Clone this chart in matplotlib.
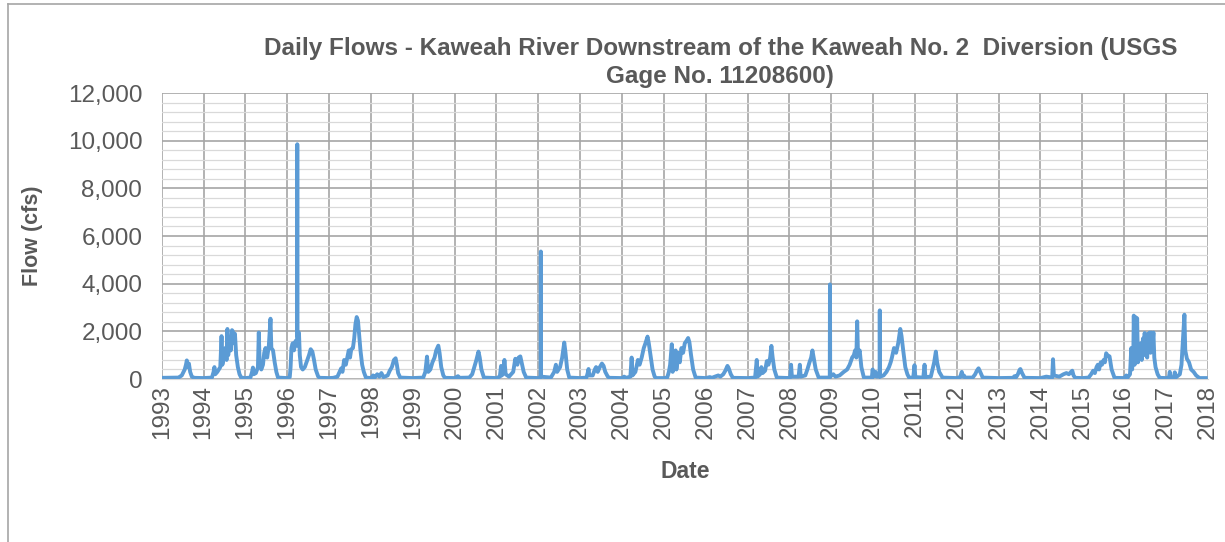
import matplotlib.pyplot as plt
from matplotlib.lines import Line2D
from matplotlib.ticker import FuncFormatter, MultipleLocator

plt.rcParams["font.family"] = ["Liberation Sans", "DejaVu Sans"]

# Data: date as decimal year, daily flow in cfs
flow_date = [
    1993.00, 1993.40, 1993.48, 1993.55, 1993.58, 1993.60, 1993.62, 1993.65, 1993.68, 1993.72, 1993.78,
    1994.00, 1994.20, 1994.24, 1994.26, 1994.28, 1994.33, 1994.40, 1994.43, 1994.45, 1994.48, 1994.52,
    1994.55, 1994.57, 1994.59, 1994.62, 1994.65, 1994.68, 1994.70, 1994.72, 1994.75, 1994.78, 1994.82,
    1994.86, 1994.90,
    1995.00, 1995.12, 1995.16, 1995.18, 1995.20, 1995.25, 1995.30, 1995.32, 1995.34, 1995.38, 1995.42,
    1995.45, 1995.48, 1995.52, 1995.56, 1995.60, 1995.62, 1995.66, 1995.70, 1995.74, 1995.78,
    1996.00, 1996.06, 1996.08, 1996.10, 1996.13, 1996.16, 1996.20, 1996.235, 1996.24, 1996.245, 1996.28,
    1996.30, 1996.33, 1996.37, 1996.42, 1996.48, 1996.52, 1996.56, 1996.60, 1996.64, 1996.68, 1996.74,
    1996.78,
    1997.00, 1997.10, 1997.20, 1997.25, 1997.29, 1997.32, 1997.36, 1997.40, 1997.43, 1997.47, 1997.50,
    1997.53, 1997.57, 1997.60, 1997.63, 1997.66, 1997.69, 1997.72, 1997.75, 1997.79, 1997.83, 1997.88,
    1998.00, 1998.05, 1998.09, 1998.15, 1998.20, 1998.25, 1998.30, 1998.40, 1998.45, 1998.50, 1998.55,
    1998.59, 1998.62, 1998.65, 1998.70,
    1999.00, 1999.25, 1999.30, 1999.34, 1999.37, 1999.42, 1999.47, 1999.52, 1999.56, 1999.61, 1999.64,
    1999.68, 1999.73, 1999.77,
    2000.00, 2000.08, 2000.12, 2000.35, 2000.42, 2000.47, 2000.52, 2000.57, 2000.60, 2000.64, 2000.70,
    2001.00, 2001.08, 2001.11, 2001.13, 2001.17, 2001.19, 2001.22, 2001.30, 2001.40, 2001.45, 2001.50,
    2001.53, 2001.57, 2001.60, 2001.65, 2001.71,
    2002.00, 2002.055, 2002.06, 2002.065, 2002.30, 2002.38, 2002.42, 2002.45, 2002.52, 2002.57, 2002.62,
    2002.65, 2002.69, 2002.74,
    2003.00, 2003.15, 2003.18, 2003.20, 2003.22, 2003.30, 2003.35, 2003.38, 2003.42, 2003.47, 2003.52,
    2003.56, 2003.60, 2003.66, 2003.70,
    2004.00, 2004.05, 2004.10, 2004.20, 2004.23, 2004.25, 2004.32, 2004.38, 2004.42, 2004.47, 2004.52,
    2004.56, 2004.61, 2004.64, 2004.68, 2004.73, 2004.78, 2004.82,
    2005.00, 2005.08, 2005.12, 2005.15, 2005.19, 2005.21, 2005.25, 2005.28, 2005.30, 2005.35, 2005.38,
    2005.42, 2005.46, 2005.50, 2005.54, 2005.58, 2005.61, 2005.65, 2005.70, 2005.76,
    2006.00, 2006.10, 2006.15, 2006.22, 2006.30, 2006.35, 2006.42, 2006.47, 2006.52, 2006.55, 2006.60,
    2006.65,
    2007.00, 2007.18, 2007.22, 2007.24, 2007.30, 2007.33, 2007.36, 2007.42, 2007.46, 2007.50, 2007.54,
    2007.57, 2007.60, 2007.64, 2007.70,
    2008.00, 2008.02, 2008.04, 2008.06, 2008.22, 2008.25, 2008.27, 2008.38, 2008.43, 2008.48, 2008.52,
    2008.55, 2008.58, 2008.63, 2008.70, 2008.965, 2008.97, 2008.975,
    2009.05, 2009.10, 2009.20, 2009.30, 2009.38, 2009.44, 2009.50, 2009.54, 2009.57, 2009.60, 2009.62,
    2009.64, 2009.68, 2009.72, 2009.78, 2009.97, 2009.99,
    2010.01, 2010.06, 2010.08, 2010.155, 2010.16, 2010.165, 2010.25, 2010.32, 2010.38, 2010.42, 2010.45,
    2010.50, 2010.55, 2010.60, 2010.65, 2010.68, 2010.72, 2010.77, 2010.82, 2010.86, 2010.96, 2010.99,
    2011.01, 2011.20, 2011.23, 2011.25, 2011.38, 2011.42, 2011.46, 2011.50, 2011.53, 2011.58, 2011.66,
    2012.00, 2012.08, 2012.12, 2012.14, 2012.17, 2012.20, 2012.38, 2012.44, 2012.48, 2012.52, 2012.56,
    2012.62,
    2013.00, 2013.35, 2013.38, 2013.42, 2013.46, 2013.50, 2013.52, 2013.56, 2013.62,
    2014.00, 2014.14, 2014.28, 2014.30, 2014.32, 2014.45, 2014.55, 2014.62, 2014.68, 2014.73, 2014.76,
    2014.79, 2014.83,
    2015.00, 2015.15, 2015.21, 2015.26, 2015.30, 2015.34, 2015.37, 2015.40, 2015.44, 2015.47, 2015.51,
    2015.54, 2015.57, 2015.60, 2015.65, 2015.70, 2015.77,
    2016.00, 2016.05, 2016.08, 2016.14, 2016.17, 2016.19, 2016.22, 2016.23, 2016.25, 2016.27, 2016.29,
    2016.31, 2016.33, 2016.35, 2016.37, 2016.40, 2016.42, 2016.45, 2016.47, 2016.49, 2016.51, 2016.53,
    2016.55, 2016.57, 2016.59, 2016.61, 2016.63, 2016.65, 2016.67, 2016.70, 2016.72, 2016.75, 2016.80,
    2016.85,
    2017.00, 2017.07, 2017.09, 2017.11, 2017.19, 2017.21, 2017.23, 2017.33, 2017.37, 2017.40, 2017.44,
    2017.46, 2017.50, 2017.55, 2017.60, 2017.66, 2017.72, 2017.80, 2017.95,
]
flow_cfs = [
    50, 60, 150, 400, 600, 780, 500, 650, 300, 100, 50,
    40, 60, 300, 500, 200, 300, 500, 1800, 600, 900, 1300,
    800, 2100, 1000, 1700, 1200, 2050, 2000, 1500, 1900, 1000, 500,
    200, 60,
    40, 60, 300, 480, 200, 250, 500, 1950, 700, 400, 600,
    1100, 1300, 900, 1400, 2530, 1300, 1200, 700, 300, 60,
    40, 80, 500, 1300, 1500, 1200, 1600, 1400, 9850, 1800, 1950,
    1000, 500, 400, 500, 800, 1000, 1250, 1150, 800, 400, 100,
    50,
    40, 50, 100, 300, 450, 300, 800, 600, 850, 1200, 900,
    1250, 1300, 1700, 2300, 2600, 2450, 1800, 1200, 600, 300, 60,
    40, 150, 60, 200, 100, 250, 80, 150, 350, 500, 800,
    870, 600, 250, 60,
    40, 60, 300, 940, 300, 400, 700, 900, 1200, 1400, 1100,
    500, 150, 50,
    40, 120, 50, 60, 200, 500, 800, 1150, 900, 400, 60,
    40, 100, 550, 150, 300, 800, 200, 100, 300, 850, 600,
    900, 950, 700, 300, 60,
    40, 100, 5350, 100, 60, 300, 600, 300, 500, 900, 1530,
    1100, 400, 60,
    40, 60, 250, 420, 150, 150, 400, 500, 300, 500, 650,
    550, 300, 100, 50,
    40, 100, 50, 100, 900, 150, 300, 800, 600, 900, 1300,
    1500, 1780, 1500, 1000, 400, 100, 40,
    40, 60, 300, 600, 1460, 300, 500, 1200, 400, 1100, 700,
    1300, 1100, 1500, 1600, 1720, 1550, 1000, 400, 60,
    40, 80, 50, 100, 150, 100, 200, 350, 550, 450, 200,
    50,
    40, 60, 800, 100, 200, 500, 250, 350, 750, 600, 900,
    1390, 900, 400, 60,
    40, 100, 600, 100, 100, 600, 100, 150, 400, 700, 900,
    1200, 900, 400, 60, 60, 3970, 100,
    200, 100, 150, 300, 400, 600, 900, 1000, 1200, 900, 2420,
    1000, 1200, 500, 60, 60, 400,
    100, 300, 100, 100, 2880, 100, 150, 300, 500, 700, 900,
    1300, 1100, 1500, 2100, 1800, 1200, 500, 200, 60, 60, 580,
    80, 60, 600, 80, 100, 400, 700, 1150, 700, 300, 60,
    40, 80, 300, 100, 150, 60, 60, 200, 350, 450, 300,
    60,
    40, 50, 120, 80, 200, 380, 420, 250, 50,
    40, 100, 60, 830, 150, 100, 200, 250, 200, 300, 350,
    150, 50,
    40, 60, 200, 350, 250, 500, 600, 400, 700, 600, 800,
    700, 1080, 1000, 950, 400, 50,
    40, 150, 60, 200, 1300, 400, 1200, 2660, 600, 2600, 800,
    2550, 700, 1200, 900, 1500, 800, 1700, 1000, 1930, 1100, 1800,
    900, 1900, 1200, 1950, 1100, 1950, 1300, 1950, 900, 500, 200,
    50,
    40, 60, 300, 60, 60, 280, 60, 200, 600, 1500, 2700,
    1200, 850, 700, 400, 300, 150, 40, 40,
]

year_ticks = list(range(1993, 2019))

text_color = "#595959"

fig = plt.figure(figsize=(12.25, 5.42), dpi=100)
ax = fig.add_axes([0.132, 0.3007, 0.854, 0.5277])

ax.plot(flow_date, flow_cfs, color="#5B9BD5", lw=2.8, solid_joinstyle="round", zorder=3)

ax.set_xlim(1993, 2018)
ax.set_ylim(0, 12000)
ax.set_xticks(year_ticks)
ax.set_xticklabels([str(y) for y in year_ticks], rotation=90)
ax.yaxis.set_major_locator(MultipleLocator(2000))
ax.yaxis.set_minor_locator(MultipleLocator(400))
ax.yaxis.set_major_formatter(FuncFormatter(lambda v, p: f"{int(v):,}"))

# gridlines like the Excel chart
ax.set_axisbelow(True)
ax.grid(which="major", color="#A6A6A6", lw=1.2)
ax.grid(which="minor", axis="y", color="#D9D9D9", lw=0.9)
for s in ["top", "right", "left"]:
    ax.spines[s].set_visible(False)
ax.spines["bottom"].set_color("#D9D9D9")
ax.tick_params(which="both", length=0, colors=text_color, labelsize=17.5)
ax.tick_params(axis="y", pad=14)
ax.tick_params(axis="x", pad=4)

ax.set_ylabel("Flow (cfs)", fontsize=15.5, fontweight="bold", color=text_color, labelpad=18)
ax.set_xlabel("Date", fontsize=16.5, fontweight="bold", color=text_color, labelpad=15)

fig.text(0.588, 0.885, "Daily Flows - Kaweah River Downstream of the Kaweah No. 2  Diversion (USGS\nGage No. 11208600)",
         ha="center", va="center", fontsize=17.5, fontweight="bold", color=text_color, linespacing=1.25)

# chart border
fig.add_artist(Line2D([8 / 1225, 1], [1 - 4 / 542, 1 - 4 / 542], color="#A6A6A6", lw=1.2))
fig.add_artist(Line2D([8 / 1225, 8 / 1225], [0, 1 - 4 / 542], color="#A6A6A6", lw=1.2))

fig.savefig("out.png", dpi=100)
